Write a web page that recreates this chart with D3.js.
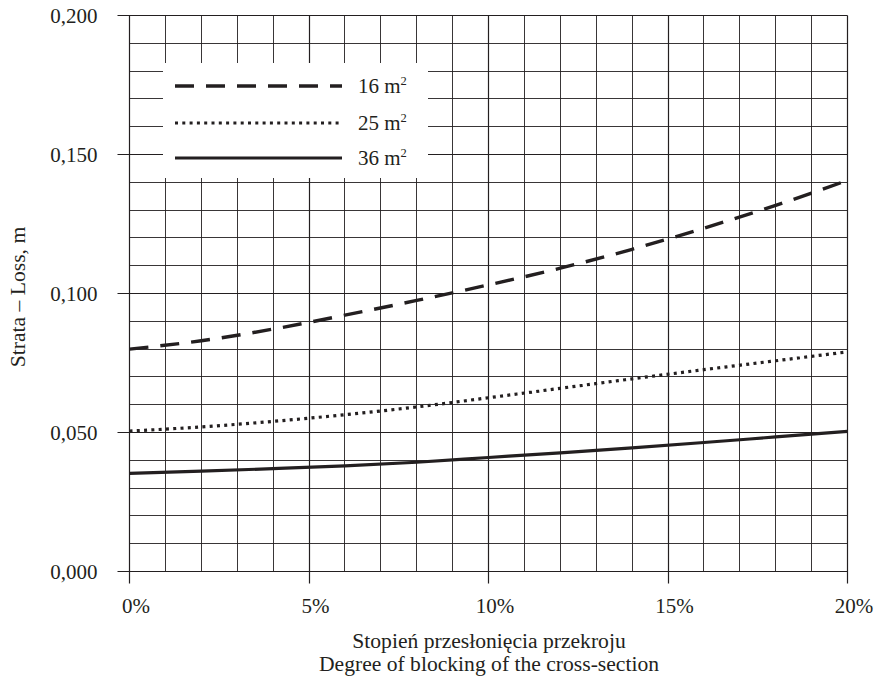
<!DOCTYPE html>
<html><head><meta charset="utf-8">
<script src="https://cdn.jsdelivr.net/npm/d3@7"></script>
<style>body{margin:0;background:#fff}svg{display:block}svg text{font-family:"Liberation Serif","Times New Roman",Times,"DejaVu Serif",serif !important;fill:#231f20}</style>
</head><body>
<svg id="c" width="883" height="679" font-family="Liberation Serif, Times New Roman, serif"></svg>
<script>
const xValues = [0, 2, 4, 6, 8, 10, 12, 14, 16, 18, 20];
const s16 = [0.0800, 0.0830, 0.0872, 0.0922, 0.0975, 0.1031, 0.1091, 0.1159, 0.1235, 0.1317, 0.1407];
const s25 = [0.0505, 0.0520, 0.0540, 0.0564, 0.0592, 0.0625, 0.0659, 0.0693, 0.0726, 0.0758, 0.0790];
const s36 = [0.0353, 0.0361, 0.0370, 0.0380, 0.0393, 0.0410, 0.0427, 0.0445, 0.0464, 0.0484, 0.0504];
const seriesNames = ["16 m", "25 m", "36 m"];
const xTicks = [0, 5, 10, 15, 20];
const yTicks = [0, 0.05, 0.10, 0.15, 0.20];
const xTitle = ["Stopień przesłonięcia przekroju", "Degree of blocking of the cross-section"];
const yTitle = "Strata – Loss, m";

const FONT = "Liberation Serif, Times New Roman, serif";
const svg = d3.select("#c");
const L = 129.5, R = 847.5, T = 15.5, B = 571.5;
const x = d3.scaleLinear().domain([0, 20]).range([L, R]);
const y = d3.scaleLinear().domain([0, 0.2]).range([B, T]);
const ink = "#231f20";

// grid
const g = svg.append("g");
g.selectAll("line.v").data(d3.range(0, 21)).join("line")
  .attr("x1", d => Math.round(x(d) - 0.5) + 0.5).attr("x2", d => Math.round(x(d) - 0.5) + 0.5)
  .attr("y1", T).attr("y2", d => d % 5 === 0 ? B + 12 : B)
  .attr("stroke", ink).attr("stroke-width", d => d % 5 === 0 ? 1.2 : 0.9);
g.selectAll("line.h").data(d3.range(0, 21).map(i => i / 100)).join("line")
  .attr("y1", d => Math.round(y(d) - 0.5) + 0.5).attr("y2", d => Math.round(y(d) - 0.5) + 0.5)
  .attr("x1", (d, i) => i % 5 === 0 ? L - 12 : L).attr("x2", R)
  .attr("stroke", ink).attr("stroke-width", (d, i) => i % 5 === 0 ? 1.2 : 0.9);

// axis labels
const xAxis = d3.axisBottom(x).tickValues(xTicks).tickFormat(d => d + "%").tickSize(0).tickPadding(0);
const xa = svg.append("g").attr("transform", `translate(0,${B})`).call(xAxis)
  .attr("font-family", FONT).attr("font-size", 21);
xa.select(".domain").remove();
xa.selectAll("text").attr("y", 41).attr("dy", 0).attr("dx", 6).style("font-size", "21px").style("fill", ink);
const yAxis = d3.axisLeft(y).tickValues(yTicks).tickFormat(d => d3.format(".3f")(d).replace(".", ",")).tickSize(0).tickPadding(0);
const ya = svg.append("g").attr("transform", `translate(${L},0)`).call(yAxis)
  .attr("font-family", FONT).attr("font-size", 21);
ya.select(".domain").remove();
ya.selectAll("text").attr("x", -32).attr("dy", "0.33em").style("font-size", "21px").style("fill", ink);

// titles
const xt = svg.append("text").attr("x", 488).attr("text-anchor", "middle").style("font-size", "21.6px");
xt.selectAll("tspan").data(xTitle).join("tspan").attr("x", 489).attr("y", (d, i) => 648 + i * 23).text(d => d);
svg.append("text").attr("transform", "translate(25,297) rotate(-90)").attr("text-anchor", "middle")
  .style("font-size", "21.6px").text(yTitle);

// legend box
const lg = svg.append("g");
lg.append("rect").attr("x", 163).attr("y", 63).attr("width", 265).attr("height", 115).attr("fill", "#fff");

const styles = [
  { data: s16, dash: "19,12", w: 3.4 },
  { data: s25, dash: "3,4.3", w: 3.2 },
  { data: s36, dash: null, w: 3.2 }
];
const line = d3.line().x(d => x(d[0])).y(d => y(d[1])).curve(d3.curveMonotoneX);
styles.forEach(s => {
  svg.append("path").datum(xValues.map((v, i) => [v, s.data[i]]))
    .attr("d", line).attr("fill", "none").attr("stroke", ink)
    .attr("stroke-width", s.w).attr("stroke-dasharray", s.dash);
});

const ly = [86, 123, 158];
styles.forEach((s, i) => {
  lg.append("line").attr("x1", 175).attr("x2", 342).attr("y1", ly[i]).attr("y2", ly[i])
    .attr("stroke", ink).attr("stroke-width", s.w).attr("stroke-dasharray", s.dash);
  const t = lg.append("text").attr("x", 358).attr("y", ly[i] + 7).style("font-size", "21px");
  t.append("tspan").text(seriesNames[i]);
  t.append("tspan").attr("dy", -8).style("font-size", "12.5px").text("2");
});
</script>
</body></html>
